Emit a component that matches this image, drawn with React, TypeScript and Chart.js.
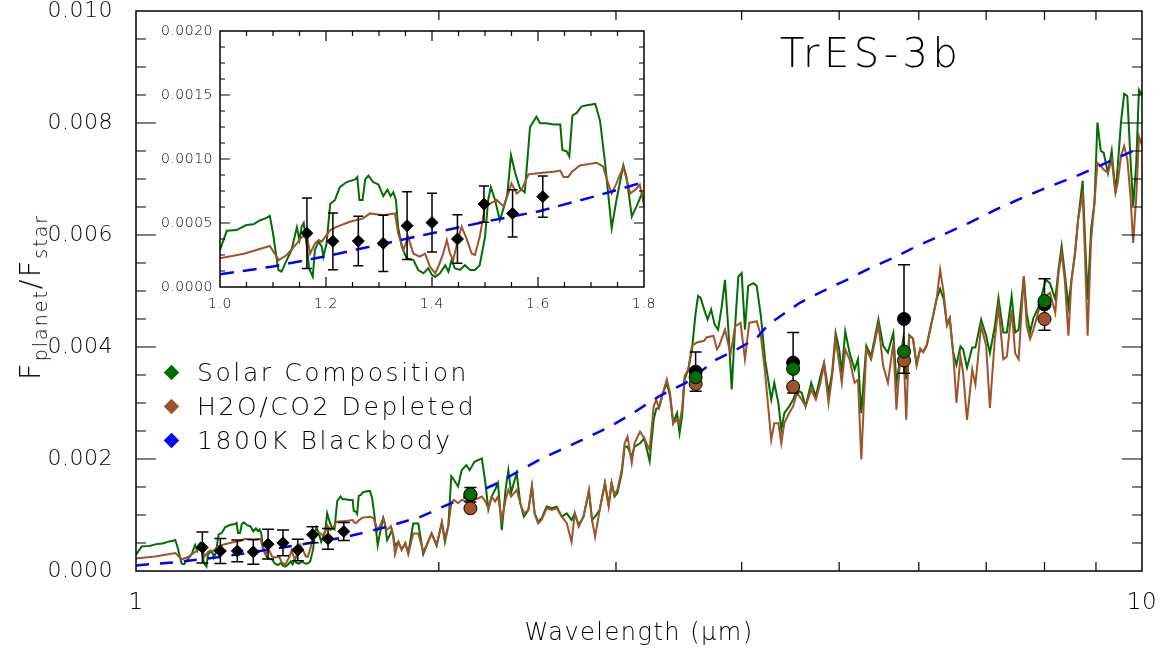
import React, { useEffect, useRef } from 'react';
import { Chart, registerables } from 'chart.js';

Chart.register(...registerables);

// ---------------- data ----------------
const SOLAR_WL = [
  1.0, 1.013, 1.031, 1.05, 1.063, 1.075, 1.088, 1.094, 1.1, 1.11, 1.116, 1.126, 1.135, 1.145, 1.15, 1.154, 1.158,
  1.164, 1.168, 1.175, 1.179, 1.186, 1.192, 1.195, 1.201, 1.208, 1.217, 1.226, 1.239, 1.255, 1.259, 1.263, 1.269,
  1.274, 1.28, 1.289, 1.299, 1.308, 1.316, 1.322, 1.327, 1.332, 1.336, 1.343, 1.352, 1.365, 1.374, 1.384, 1.393,
  1.4, 1.406, 1.415, 1.425, 1.431, 1.437, 1.443, 1.453, 1.462, 1.472, 1.481, 1.49, 1.5, 1.506, 1.511, 1.519, 1.528,
  1.536, 1.542, 1.549, 1.557, 1.566, 1.575, 1.585, 1.597, 1.604, 1.616, 1.629, 1.642, 1.646, 1.654, 1.659, 1.665,
  1.673, 1.682, 1.692, 1.708, 1.717, 1.726, 1.739, 1.748, 1.761, 1.767, 1.777, 1.786, 1.796, 1.802,
  1.809, 1.823, 1.837, 1.852, 1.865, 1.886, 1.908, 1.93, 1.944, 1.967, 1.99, 2.014, 2.028, 2.044, 2.058, 2.07,
  2.09, 2.107, 2.13, 2.146, 2.17, 2.207, 2.225, 2.24, 2.257, 2.275, 2.29, 2.31, 2.33, 2.345, 2.36, 2.39, 2.41,
  2.43, 2.455, 2.475, 2.49, 2.51, 2.53, 2.56, 2.59, 2.62, 2.65, 2.68, 2.71, 2.73, 2.755, 2.785, 2.82, 2.84, 2.86,
  2.89, 2.925, 2.95, 2.97, 2.99, 3.01, 3.04, 3.06, 3.08, 3.11, 3.13, 3.17, 3.2, 3.24, 3.27, 3.29, 3.31, 3.34,
  3.37, 3.395, 3.42, 3.45, 3.47, 3.49, 3.51, 3.54, 3.57, 3.6, 3.62, 3.64, 3.68, 3.7, 3.73, 3.76, 3.79, 3.82,
  3.85, 3.88, 3.91, 3.94, 3.97, 4.0, 4.03, 4.06, 4.11, 4.14, 4.18, 4.22, 4.25, 4.28, 4.31, 4.35, 4.38, 4.41,
  4.46, 4.5, 4.54, 4.59, 4.63, 4.69, 4.74, 4.79, 4.83, 4.88, 4.92, 4.96, 5.0, 5.03, 5.07, 5.12, 5.18, 5.22,
  5.26, 5.32, 5.38, 5.47, 5.53, 5.59, 5.66, 5.7, 5.75, 5.79, 5.83, 5.87, 5.92, 5.97, 6.02, 6.06, 6.11, 6.16,
  6.2, 6.25, 6.3, 6.35, 6.4, 6.44, 6.49, 6.54, 6.6, 6.64, 6.7, 6.78, 6.83, 6.92, 7.0, 7.06, 7.14, 7.2, 7.28,
  7.34, 7.42, 7.48, 7.54, 7.63, 7.68, 7.74, 7.8, 7.9, 8.02, 8.1, 8.2, 8.26, 8.32, 8.38, 8.45, 8.51, 8.58, 8.64,
  8.73, 8.77, 8.83, 8.9, 8.97, 9.03, 9.1, 9.16, 9.25, 9.33, 9.41, 9.46, 9.53, 9.6, 9.67, 9.74, 9.8, 9.87, 9.93, 10.0,
];
const SOLAR_FLUX = [
  0.000289, 0.00044, 0.000445, 0.000484, 0.00049, 0.00052, 0.00054, 0.000555, 0.00042, 0.000133, 0.00012, 0.00021,
  0.00029, 0.000466, 0.000367, 0.00047, 0.0005, 0.000315, 0.000146, 0.00008, 0.00029, 0.000354, 0.000315, 0.000237,
  0.00034, 0.00065, 0.00068, 0.00078, 0.00082, 0.00084, 0.00086, 0.00068, 0.00068, 0.00084, 0.00087, 0.00082,
  0.0008, 0.00071, 0.00076, 0.00071, 0.00074, 0.00068, 0.00047, 0.000315, 0.000224, 0.00021, 0.000133, 0.000107,
  0.000146, 0.000094, 0.00008, 0.000107, 0.00017, 0.00012, 0.00021, 0.000146, 0.000133, 0.00017, 0.000133,
  0.000133, 0.00017, 0.00039, 0.00068, 0.00078, 0.00068, 0.00052, 0.00063, 0.00072, 0.00103, 0.00089, 0.00077,
  0.00074, 0.00125, 0.00133, 0.00128, 0.00128, 0.00127, 0.00127, 0.00107, 0.00106, 0.00102, 0.00134, 0.00136,
  0.00141, 0.00142, 0.00143, 0.0013, 0.00099, 0.00046, 0.00068, 0.00095, 0.00086, 0.00055, 0.00063, 0.00073, 0.00063,
  0.00045, 0.00052, 0.00038, 0.0005, 0.00032, 0.00085, 0.00085, 0.0003, 0.00045, 0.00067, 0.00045, 0.00087, 0.00052,
  0.00081, 0.00169, 0.00163, 0.00151, 0.0018, 0.00189, 0.0018, 0.00195, 0.00201, 0.00157, 0.0011, 0.00133, 0.00145,
  0.00157, 0.00073, 0.00145, 0.0018, 0.0014, 0.00175, 0.00121, 0.00097, 0.00109, 0.00151, 0.00103, 0.00088, 0.00094,
  0.00115, 0.00112, 0.00115, 0.00097, 0.00103, 0.00091, 0.00103, 0.00082, 0.00097, 0.00142, 0.00091, 0.00097,
  0.00109, 0.00157, 0.00118, 0.00157, 0.00133, 0.00139, 0.00175, 0.00222, 0.00222, 0.00204, 0.00222, 0.00228,
  0.00237, 0.00196, 0.0027, 0.0029, 0.00291, 0.00318, 0.00336, 0.00312, 0.00264, 0.00282, 0.00246, 0.00276,
  0.00342, 0.0036, 0.00396, 0.00461, 0.00491, 0.00488, 0.00461, 0.00449, 0.00467, 0.0044, 0.00431, 0.0047, 0.0052,
  0.00431, 0.00324, 0.00437, 0.00526, 0.00532, 0.00431, 0.00509, 0.00514, 0.00509, 0.00455, 0.00377, 0.00342,
  0.00306, 0.00336, 0.003, 0.00252, 0.00282, 0.00294, 0.00306, 0.00324, 0.00318, 0.00294, 0.00336, 0.00312,
  0.00348, 0.00372, 0.00318, 0.00354, 0.00425, 0.00396, 0.00354, 0.00428, 0.0039, 0.0036, 0.00378, 0.00282,
  0.00402, 0.00384, 0.00449, 0.00402, 0.0039, 0.00425, 0.00336, 0.0038, 0.00415, 0.00342, 0.00421, 0.00415,
  0.00368, 0.00397, 0.00391, 0.00403, 0.00433, 0.00456, 0.00486, 0.00504, 0.00486, 0.00439, 0.00451, 0.00391,
  0.00368, 0.00401, 0.00396, 0.00363, 0.00399, 0.00399, 0.00449, 0.0042, 0.00389, 0.00437, 0.00488, 0.00426,
  0.00426, 0.00491, 0.00426, 0.00431, 0.00526, 0.00461, 0.00426, 0.00452, 0.00473, 0.0052, 0.00514, 0.00485,
  0.00538, 0.0058, 0.00532, 0.00473, 0.0052, 0.00568, 0.00628, 0.00697, 0.0061, 0.00485, 0.0061, 0.00658, 0.00801,
  0.0075, 0.00747, 0.00711, 0.0075, 0.00675, 0.00723, 0.00801, 0.00852, 0.00848, 0.00735, 0.00652, 0.00729,
  0.00859, 0.0085,
];

const DEPLETED_WL = [
  1.0, 1.045, 1.094, 1.111, 1.126, 1.145, 1.154, 1.164, 1.17, 1.179, 1.186, 1.192, 1.198, 1.208, 1.22, 1.245,
  1.27, 1.283, 1.308, 1.33, 1.336, 1.346, 1.355, 1.365, 1.377, 1.387, 1.396, 1.406, 1.412, 1.421, 1.428, 1.434,
  1.44, 1.45, 1.456, 1.465, 1.475, 1.481, 1.49, 1.5, 1.509, 1.522, 1.535, 1.544, 1.55, 1.56, 1.569, 1.582, 1.604,
  1.629, 1.642, 1.648, 1.657, 1.664, 1.679, 1.711, 1.723, 1.73, 1.739, 1.748, 1.761, 1.774, 1.786, 1.792, 1.802,
  1.809, 1.823, 1.837, 1.852, 1.865, 1.886, 1.908, 1.93, 1.944, 1.967, 1.99, 2.014, 2.028, 2.044, 2.058, 2.07,
  2.09, 2.107, 2.13, 2.146, 2.17, 2.207, 2.225, 2.24, 2.257, 2.275, 2.29, 2.31, 2.33, 2.345, 2.36, 2.39, 2.41,
  2.43, 2.455, 2.475, 2.49, 2.51, 2.53, 2.56, 2.59, 2.62, 2.65, 2.68, 2.71, 2.73, 2.755, 2.785, 2.82, 2.84, 2.86,
  2.89, 2.925, 2.95, 2.97, 2.99, 3.01, 3.04, 3.06, 3.08, 3.11, 3.13, 3.17, 3.2, 3.24, 3.27, 3.29, 3.31, 3.34,
  3.37, 3.395, 3.42, 3.45, 3.47, 3.49, 3.51, 3.54, 3.57, 3.61, 3.67, 3.69, 3.75, 3.78, 3.8, 3.85, 3.9, 3.94,
  3.99, 4.03, 4.07, 4.14, 4.18, 4.22, 4.25, 4.28, 4.31, 4.35, 4.38, 4.41, 4.46, 4.5, 4.54, 4.59, 4.63, 4.69,
  4.74, 4.79, 4.83, 4.88, 4.92, 4.96, 5.0, 5.03, 5.07, 5.12, 5.18, 5.22, 5.26, 5.32, 5.38, 5.47, 5.53, 5.59,
  5.66, 5.7, 5.75, 5.79, 5.83, 5.87, 5.92, 5.97, 6.02, 6.06, 6.11, 6.16, 6.2, 6.25, 6.3, 6.35, 6.4, 6.44, 6.49,
  6.54, 6.6, 6.64, 6.7, 6.78, 6.83, 6.92, 7.0, 7.06, 7.14, 7.2, 7.28, 7.34, 7.42, 7.48, 7.54, 7.63, 7.68, 7.74,
  7.8, 7.9, 8.02, 8.1, 8.2, 8.26, 8.32, 8.38, 8.45, 8.51, 8.58, 8.64, 8.73, 8.77, 8.83, 8.9, 8.97, 9.03, 9.1,
  9.16, 9.25, 9.33, 9.41, 9.46, 9.53, 9.6, 9.67, 9.74, 9.8, 9.87, 9.93, 10.0,
];
const DEPLETED_FLUX = [
  0.000224, 0.00026, 0.00032, 0.00021, 0.00025, 0.00034, 0.00039, 0.0004, 0.00026, 0.00034, 0.000367, 0.000354,
  0.00039, 0.000445, 0.00047, 0.00051, 0.000536, 0.000575, 0.00056, 0.000575, 0.00042, 0.00029, 0.00039, 0.00026,
  0.000237, 0.00026, 0.00016, 0.000107, 0.00016, 0.00026, 0.000367, 0.00026, 0.00021, 0.00039, 0.00047, 0.00038,
  0.00026, 0.00025, 0.00039, 0.00063, 0.00065, 0.00068, 0.00063, 0.00073, 0.00081, 0.00073, 0.00076, 0.00088,
  0.00089, 0.0009, 0.00091, 0.00086, 0.00086, 0.0009, 0.00095, 0.00097, 0.00094, 0.00084, 0.00073, 0.00081,
  0.00094, 0.00073, 0.00077, 0.0008, 0.0006,
  0.0003, 0.00052, 0.00038, 0.0005, 0.0003, 0.00067, 0.00067, 0.00035, 0.00045, 0.00067, 0.00047, 0.00087, 0.00057,
  0.00081, 0.00121, 0.00127, 0.00121, 0.00127, 0.00124, 0.0013, 0.00127, 0.00133, 0.00124, 0.00112, 0.00133,
  0.00124, 0.00133, 0.00091, 0.00127, 0.00145, 0.00133, 0.00145, 0.00121, 0.00103, 0.00109, 0.00151, 0.00103,
  0.00085, 0.00091, 0.00112, 0.00109, 0.00112, 0.00097, 0.00086, 0.00052, 0.00103, 0.00079, 0.00097, 0.00145,
  0.00091, 0.00061, 0.00109, 0.00157, 0.00115, 0.00157, 0.00136, 0.00145, 0.00181, 0.00228, 0.0024, 0.00193,
  0.00228, 0.00249, 0.00237, 0.00216, 0.00294, 0.00306, 0.00291, 0.00318, 0.00342, 0.00318, 0.00264, 0.0027,
  0.00264, 0.0029, 0.00348, 0.0036, 0.00402, 0.00408, 0.00411, 0.00417, 0.0042, 0.00396, 0.00402, 0.00431,
  0.00387, 0.00437, 0.00443, 0.00378, 0.00443, 0.00446, 0.0042, 0.00354, 0.00294, 0.00234, 0.00264, 0.00264,
  0.00228, 0.00264, 0.00282, 0.00294, 0.00318, 0.00306, 0.00294, 0.00324, 0.00306, 0.00336, 0.00369, 0.003,
  0.00348, 0.00414, 0.00372, 0.00336, 0.00396, 0.00378, 0.00336, 0.00342, 0.00199, 0.00396, 0.00378, 0.0044,
  0.00366, 0.00336, 0.00408, 0.00288, 0.0038, 0.00403, 0.0027, 0.00421, 0.00415, 0.00368, 0.00397, 0.00391,
  0.00403, 0.00433, 0.00456, 0.00486, 0.00538, 0.00498, 0.00439, 0.00451, 0.00391, 0.003, 0.00383, 0.00354,
  0.0027, 0.0036, 0.00333, 0.00438, 0.00402, 0.00291, 0.00414, 0.00473, 0.00378, 0.00383, 0.00467, 0.00389,
  0.00378, 0.00526, 0.00438, 0.00414, 0.00431, 0.00467, 0.00491, 0.00497, 0.00461, 0.00532, 0.00568, 0.0052,
  0.0042, 0.0052, 0.00568, 0.00628, 0.00673, 0.0058, 0.0042, 0.00592, 0.00658, 0.00729, 0.00723, 0.00717,
  0.00711, 0.00735, 0.00675, 0.00693, 0.00741, 0.00759, 0.00735, 0.00669, 0.00586, 0.00669, 0.00776, 0.0076,
];

const BLACKBODY_WL = [
  1.0, 1.1, 1.2, 1.3, 1.4, 1.5, 1.6, 1.7, 1.8, 1.92, 2.02, 2.27, 2.52, 2.64, 2.8, 2.96, 3.12, 3.31, 3.52, 3.77,
  3.95, 4.14, 4.25, 4.37, 4.57, 4.82, 5.09, 5.37, 5.66, 5.97, 6.35, 6.74, 7.17, 7.62, 8.1, 8.6, 9.14, 9.79, 10.0,
];
const BLACKBODY_FLUX = [
  0.0001, 0.00016, 0.00024, 0.00033, 0.00042, 0.00051, 0.00059, 0.0007, 0.00082, 0.00097, 0.00115, 0.00154,
  0.00199, 0.00216, 0.00237, 0.00258, 0.00282, 0.00312, 0.00336, 0.00377, 0.00395, 0.00416, 0.0044, 0.00455,
  0.00479, 0.005, 0.0052, 0.00541, 0.00559, 0.0058, 0.00601, 0.00622, 0.00646, 0.00667, 0.00687, 0.00705,
  0.00726, 0.0075, 0.00756,
];

const HST_WL = [1.164, 1.213, 1.261, 1.308, 1.353, 1.4, 1.448, 1.498, 1.552, 1.609];
const HST_FLUX = [0.00042, 0.000357, 0.000359, 0.000341, 0.000479, 0.000503, 0.000375, 0.000648, 0.000575, 0.000706];
const HST_ERR = [0.000275, 0.000222, 0.000193, 0.00022, 0.000265, 0.00023, 0.00019, 0.000142, 0.000185, 0.000162];

const PHOT_WL = [2.15, 3.6, 4.5, 5.8, 8.0];
const PHOT_OBS = [0.00136, 0.00356, 0.00372, 0.0045, 0.00476];
const PHOT_ERR = [0.00013, 0.00035, 0.00054, 0.00097, 0.00046];
const PHOT_SOLAR = [0.00137, 0.00346, 0.00361, 0.00392, 0.00482];
const PHOT_DEPLETED = [0.00112, 0.00334, 0.00329, 0.00376, 0.0045];

const MAIN_Y_TICKS = [0, 0.002, 0.004, 0.006, 0.008, 0.01];
const MAIN_X_TICKS = [1, 10];
const INSET_Y_TICKS = [0, 0.0005, 0.001, 0.0015, 0.002];
const INSET_X_TICKS = [1.0, 1.2, 1.4, 1.6, 1.8];

const LEGEND_LABELS = ['Solar Composition', 'H2O/CO2 Depleted', '1800K Blackbody'];

// ---------------- styles ----------------
const GREEN = '#006e00';
const BROWN = '#a0522d';
const BLUE = '#0000ff';
const FONT = "'DejaVu Sans', 'Noto Sans', sans-serif";

const pts = (xs: number[], ys: number[]) => xs.map((x, i) => ({ x, y: ys[i] }));

const errorBarPlugin = (capHalf: number) => ({
  id: 'errorBars',
  beforeDatasetDraw(chart: any, args: any) {
    const ds = chart.data.datasets[args.index];
    if (!ds.errors) return;
    const { ctx } = chart;
    const xs = chart.scales.x;
    const ys = chart.scales.y;
    ctx.save();
    ctx.strokeStyle = '#000';
    ctx.lineWidth = 1.5;
    ctx.beginPath();
    ds.data.forEach((p: any, i: number) => {
      const e = ds.errors[i];
      const px = xs.getPixelForValue(p.x);
      const top = ys.getPixelForValue(p.y + e);
      const bot = ys.getPixelForValue(p.y - e);
      ctx.moveTo(px, top);
      ctx.lineTo(px, bot);
      ctx.moveTo(px - capHalf, top);
      ctx.lineTo(px + capHalf, top);
      ctx.moveTo(px - capHalf, bot);
      ctx.lineTo(px + capHalf, bot);
    });
    ctx.stroke();
    ctx.restore();
  },
});

const framePlugin = (xTicks: [number, number][], yTicks: [number, number][]) => ({
  id: 'frame',
  afterDraw(chart: any) {
    const { ctx, chartArea: a } = chart;
    const xs = chart.scales.x;
    const ys = chart.scales.y;
    ctx.save();
    ctx.strokeStyle = '#000';
    ctx.lineWidth = 1.5;
    ctx.strokeRect(a.left, a.top, a.right - a.left, a.bottom - a.top);
    ctx.lineWidth = 1.2;
    ctx.beginPath();
    xTicks.forEach(([v, len]) => {
      const px = xs.getPixelForValue(v);
      ctx.moveTo(px, a.bottom);
      ctx.lineTo(px, a.bottom - len);
      ctx.moveTo(px, a.top);
      ctx.lineTo(px, a.top + len);
    });
    yTicks.forEach(([v, len]) => {
      const py = ys.getPixelForValue(v);
      ctx.moveTo(a.left, py);
      ctx.lineTo(a.left + len, py);
      ctx.moveTo(a.right, py);
      ctx.lineTo(a.right - len, py);
    });
    ctx.stroke();
    ctx.restore();
  },
});

const spacingPlugin = (titleLS: string, tickLS: string) => ({
  id: 'spacing',
  beforeDraw(chart: any) {
    chart.ctx.letterSpacing = titleLS;
  },
  afterDatasetsDraw(chart: any) {
    chart.ctx.letterSpacing = tickLS;
  },
  afterDraw(chart: any) {
    chart.ctx.letterSpacing = '0px';
  },
});

function lineDatasets(dash: number[]) {
  return [
    {
      label: LEGEND_LABELS[0],
      data: pts(SOLAR_WL, SOLAR_FLUX),
      borderColor: GREEN,
      borderWidth: 2,
      pointRadius: 0,
      tension: 0,
      order: 6,
    },
    {
      label: LEGEND_LABELS[1],
      data: pts(DEPLETED_WL, DEPLETED_FLUX),
      borderColor: BROWN,
      borderWidth: 2,
      pointRadius: 0,
      tension: 0,
      order: 5,
    },
    {
      label: LEGEND_LABELS[2],
      data: pts(BLACKBODY_WL, BLACKBODY_FLUX),
      borderColor: BLUE,
      borderWidth: 2.5,
      borderDash: dash,
      pointRadius: 0,
      tension: 0,
      order: 4,
    },
  ];
}

function hstDataset(radius: number) {
  return {
    label: 'WFC3',
    data: pts(HST_WL, HST_FLUX),
    errors: HST_ERR,
    showLine: false,
    pointStyle: 'rectRot',
    pointRadius: radius,
    backgroundColor: '#000',
    borderColor: '#000',
    borderWidth: 1,
    order: 3,
  };
}

export default function App() {
  const mainRef = useRef<HTMLCanvasElement>(null);
  const insetRef = useRef<HTMLCanvasElement>(null);

  useEffect(() => {
    const mainXTicks: [number, number][] = [];
    for (let m = 2; m <= 9; m++) mainXTicks.push([m, 9]);
    const mainYTicks: [number, number][] = [];
    for (let k = 1; k < 20; k++) mainYTicks.push([k * 0.0005, k % 4 === 0 ? 20 : 10]);

    const tickFont = { family: FONT, size: 22, weight: '200' as any };

    const main = new Chart(mainRef.current!, {
      type: 'line',
      data: {
        datasets: [
          ...lineDatasets([13, 11]),
          hstDataset(6),
          {
            label: 'Observed',
            data: pts(PHOT_WL, PHOT_OBS),
            errors: PHOT_ERR,
            showLine: false,
            pointStyle: 'circle',
            pointRadius: 6.5,
            backgroundColor: '#000',
            borderColor: '#000',
            borderWidth: 1,
            order: 2,
          },
          {
            label: 'Depleted band',
            data: pts(PHOT_WL, PHOT_DEPLETED),
            showLine: false,
            pointStyle: 'circle',
            pointRadius: 6.5,
            backgroundColor: BROWN,
            borderColor: '#000',
            borderWidth: 1,
            order: 1,
          },
          {
            label: 'Solar band',
            data: pts(PHOT_WL, PHOT_SOLAR),
            showLine: false,
            pointStyle: 'circle',
            pointRadius: 6.5,
            backgroundColor: GREEN,
            borderColor: '#000',
            borderWidth: 1,
            order: 0,
          },
        ] as any,
      },
      options: {
        animation: false,
        responsive: false,
        devicePixelRatio: 1,
        layout: { padding: { top: 11, right: 23, left: 0, bottom: 0 } },
        plugins: { legend: { display: false }, tooltip: { enabled: false } },
        scales: {
          x: {
            type: 'logarithmic',
            min: 1,
            max: 10,
            grid: { display: false, drawTicks: false },
            border: { display: false },
            afterBuildTicks: (s: any) => {
              s.ticks = MAIN_X_TICKS.map((v) => ({ value: v }));
            },
            afterFit: (s: any) => {
              s.height = 85;
              s.paddingLeft = 0;
              s.paddingRight = 0;
            },
            ticks: {
              z: 1,
              autoSkip: false,
              maxRotation: 0,
              color: '#000',
              padding: 18,
              font: { family: FONT, size: 23, weight: '200' as any },
              callback: (v: any) => String(v),
            },
            title: {
              display: true,
              text: 'Wavelength (μm)',
              color: '#000',
              font: { family: FONT, size: 24, weight: '200' as any },
              padding: { top: 0, bottom: 8 },
            },
          },
          y: {
            type: 'linear',
            min: 0,
            max: 0.01,
            grid: { display: false, drawTicks: false },
            border: { display: false },
            afterBuildTicks: (s: any) => {
              s.ticks = MAIN_Y_TICKS.map((v) => ({ value: v }));
            },
            afterFit: (s: any) => {
              s.width = 136;
              s.paddingTop = 0;
              s.paddingBottom = 0;
            },
            ticks: {
              z: 1,
              color: '#000',
              padding: 23,
              font: tickFont,
              callback: (v: any) => Number(v).toFixed(3),
            },
          },
        },
      } as any,
      plugins: [spacingPlugin('1.5px', '0.5px'), errorBarPlugin(6), framePlugin(mainXTicks, mainYTicks)],
    });

    const insetXTicks: [number, number][] = [];
    for (let k = 1; k < 16; k++) insetXTicks.push([1 + k * 0.05, k % 4 === 0 ? 10 : 5]);
    const insetYTicks: [number, number][] = [];
    for (let k = 1; k < 16; k++) insetYTicks.push([k * 0.000125, k % 4 === 0 ? 10 : 5]);
    const insetFont = { family: FONT, size: 14, weight: '300' as any };

    const inset = new Chart(insetRef.current!, {
      type: 'line',
      data: {
        datasets: [...lineDatasets([14, 9]), hstDataset(6)] as any,
      },
      options: {
        animation: false,
        responsive: false,
        devicePixelRatio: 1,
        layout: { padding: { top: 11, right: 16, left: 0, bottom: 0 } },
        plugins: { legend: { display: false }, tooltip: { enabled: false } },
        scales: {
          x: {
            type: 'linear',
            min: 1,
            max: 1.8,
            grid: { display: false, drawTicks: false },
            border: { display: false },
            afterBuildTicks: (s: any) => {
              s.ticks = INSET_X_TICKS.map((v) => ({ value: v }));
            },
            afterFit: (s: any) => {
              s.height = 33;
              s.paddingLeft = 0;
              s.paddingRight = 0;
            },
            ticks: {
              z: 1,
              autoSkip: false,
              maxRotation: 0,
              color: '#000',
              padding: 9,
              font: insetFont,
              callback: (v: any) => Number(v).toFixed(1),
            },
          },
          y: {
            type: 'linear',
            min: 0,
            max: 0.002,
            grid: { display: false, drawTicks: false },
            border: { display: false },
            afterBuildTicks: (s: any) => {
              s.ticks = INSET_Y_TICKS.map((v) => ({ value: v }));
            },
            afterFit: (s: any) => {
              s.width = 70;
              s.paddingTop = 0;
              s.paddingBottom = 0;
            },
            ticks: {
              z: 1,
              color: '#000',
              padding: 7,
              font: insetFont,
              callback: (v: any) => Number(v).toFixed(4),
            },
          },
        },
      } as any,
      plugins: [spacingPlugin('0px', '0.5px'), errorBarPlugin(5), framePlugin(insetXTicks, insetYTicks)],
    });

    return () => {
      main.destroy();
      inset.destroy();
    };
  }, []);

  const legendColors = [GREEN, BROWN, BLUE];
  const legendY = [373, 407, 441];

  return (
    <div
      style={{
        position: 'fixed',
        left: 0,
        top: 0,
        width: 1165,
        height: 656,
        background: '#fff',
        overflow: 'hidden',
        fontFamily: FONT,
        fontWeight: 200,
        color: '#000',
      }}
    >
      <canvas ref={mainRef} width={1165} height={656} style={{ position: 'absolute', left: 0, top: 0 }} />
      <canvas ref={insetRef} width={510} height={300} style={{ position: 'absolute', left: 150, top: 20 }} />
      <div
        style={{
          position: 'absolute',
          left: 33,
          top: 297,
          transform: 'translate(-50%, -50%) rotate(-90deg)',
          whiteSpace: 'nowrap',
          fontSize: 29,
          letterSpacing: '2px',
          lineHeight: 1,
        }}
      >
        F<sub style={{ fontSize: 19, verticalAlign: '-7px' }}>planet</sub>/F
        <sub style={{ fontSize: 19, verticalAlign: '-7px' }}>star</sub>
      </div>
      <div
        style={{
          position: 'absolute',
          left: 780,
          top: 29,
          fontSize: 40,
          letterSpacing: '4.5px',
          whiteSpace: 'nowrap',
          lineHeight: 1.2,
        }}
      >
        TrES-3b
      </div>
      {LEGEND_LABELS.map((label, i) => (
        <div key={label} style={{ position: 'absolute', left: 0, top: legendY[i] - 16, height: 32, width: 600 }}>
          <div
            style={{
              position: 'absolute',
              left: 166,
              top: 10,
              width: 11,
              height: 11,
              background: legendColors[i],
              transform: 'rotate(45deg)',
            }}
          />
          <div
            style={{
              position: 'absolute',
              left: 197,
              top: 0,
              fontSize: 25,
              lineHeight: '32px',
              letterSpacing: '2.6px',
              whiteSpace: 'nowrap',
            }}
          >
            {label}
          </div>
        </div>
      ))}
    </div>
  );
}
